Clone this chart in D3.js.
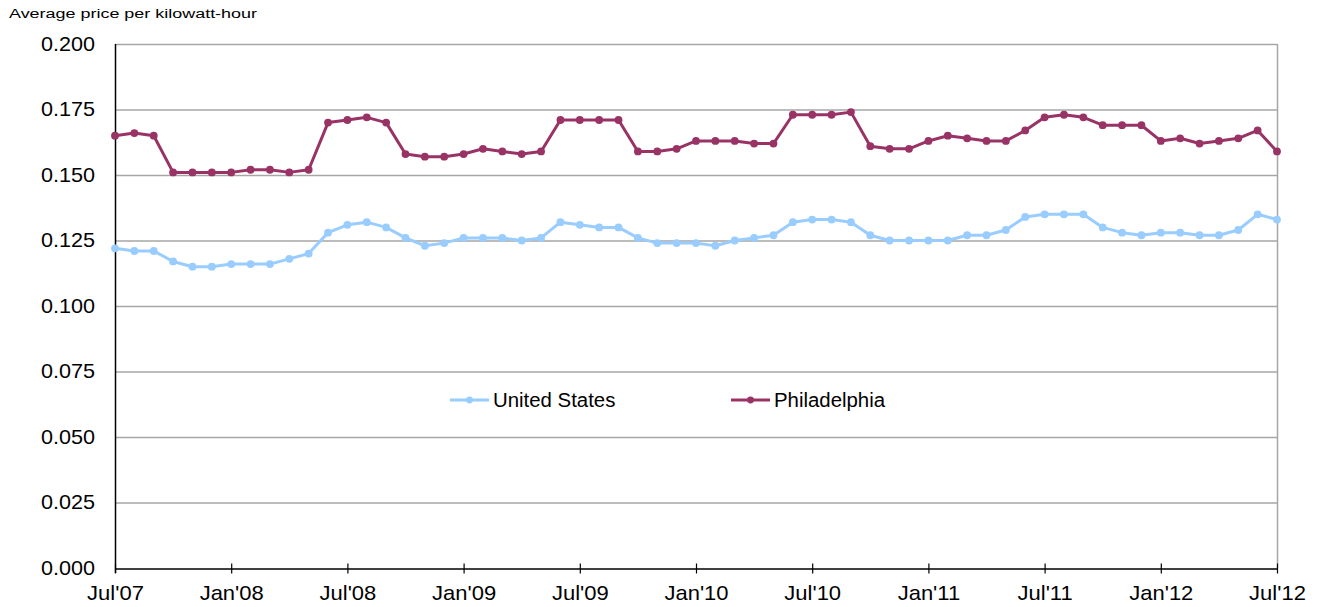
<!DOCTYPE html>
<html><head><meta charset="utf-8">
<script src="https://cdn.jsdelivr.net/npm/d3@7/dist/d3.min.js"></script>
<style>body{margin:0;background:#fff}svg{display:block}text{font-family:"Liberation Sans",Arial,sans-serif}</style>
</head><body>
<svg id="c" width="1318" height="607"></svg>
<script>
const yTicks = [0, 0.025, 0.05, 0.075, 0.1, 0.125, 0.15, 0.175, 0.2];
const xTickLabels = ["Jul'07","Jan'08","Jul'08","Jan'09","Jul'09","Jan'10","Jul'10","Jan'11","Jul'11","Jan'12","Jul'12"];
const unitedStates = [0.122,0.121,0.121,0.117,0.115,0.115,0.116,0.116,0.116,0.118,0.120,0.128,0.131,0.132,0.130,0.126,0.123,0.124,0.126,0.126,0.126,0.125,0.126,0.132,0.131,0.130,0.130,0.126,0.124,0.124,0.124,0.123,0.125,0.126,0.127,0.132,0.133,0.133,0.132,0.127,0.125,0.125,0.125,0.125,0.127,0.127,0.129,0.134,0.135,0.135,0.135,0.130,0.128,0.127,0.128,0.128,0.127,0.127,0.129,0.135,0.133];
const philadelphia = [0.165,0.166,0.165,0.151,0.151,0.151,0.151,0.152,0.152,0.151,0.152,0.170,0.171,0.172,0.170,0.158,0.157,0.157,0.158,0.160,0.159,0.158,0.159,0.171,0.171,0.171,0.171,0.159,0.159,0.160,0.163,0.163,0.163,0.162,0.162,0.173,0.173,0.173,0.174,0.161,0.160,0.160,0.163,0.165,0.164,0.163,0.163,0.167,0.172,0.173,0.172,0.169,0.169,0.169,0.163,0.164,0.162,0.163,0.164,0.167,0.159];
const seriesNames = ["United States","Philadelphia"];

const svg = d3.select("#c");
const L=115, R=1277, T=44, B=568;
const x = d3.scaleLinear().domain([0, 60]).range([L, R]);
const y = d3.scaleLinear().domain([0, 0.2]).range([B, T]);

// horizontal stretch helper (reference text is horizontally widened)
function stretch(sel, sx){
  sel.each(function(){
    const t = d3.select(this);
    const ax = +t.attr("x") || 0;
    t.attr("transform",`translate(${ax},0) scale(${sx},1) translate(${-ax},0)`);
  });
}

// gridlines
svg.append("g").selectAll("line").data(yTicks.filter(d=>d>0)).join("line")
  .attr("x1",L).attr("x2",R).attr("y1",d=>y(d)+0.5).attr("y2",d=>y(d)+0.5)
  .attr("stroke","#a6a6a6").attr("stroke-width",1.3);
// right border
svg.append("line").attr("x1",R+0.5).attr("x2",R+0.5).attr("y1",T).attr("y2",B)
  .attr("stroke","#a6a6a6").attr("stroke-width",1.5);

// y axis
const yAxis = d3.axisLeft(y).tickValues(yTicks).tickFormat(d3.format(".3f")).tickSize(0).tickPadding(20);
const gy = svg.append("g").attr("transform",`translate(${L},0)`).call(yAxis);
gy.select(".domain").remove();
gy.selectAll("text").attr("font-size",20).attr("fill","#000").attr("font-family","Liberation Sans, Arial, sans-serif");
stretch(gy.selectAll("text"), 1.08);
svg.append("line").attr("x1",L+0.5).attr("x2",L+0.5).attr("y1",T).attr("y2",B+5).attr("stroke","#000").attr("stroke-width",1.5);

// x axis
const xAxis = d3.axisBottom(x).tickValues(d3.range(0,61,6)).tickFormat((d,i)=>xTickLabels[i]).tickSizeInner(5).tickSizeOuter(0).tickPadding(12);
const gx = svg.append("g").attr("transform",`translate(0,${B+0.5})`).call(xAxis);
gx.select(".domain").attr("stroke","#000").attr("stroke-width",1.5);
gx.selectAll(".tick line").attr("y1",-5).attr("y2",5).attr("stroke","#000").attr("stroke-width",1.2);
gx.selectAll("text").attr("font-size",20).attr("fill","#000").attr("font-family","Liberation Sans, Arial, sans-serif");
stretch(gx.selectAll("text"), 1.1);

// title
const title = svg.append("text").attr("x",9).attr("y",18).attr("font-size",13.5).attr("fill","#000").text("Average price per kilowatt-hour");
stretch(title, 1.33);

const colors = ["#99ccff","#993366"];
const data = [unitedStates, philadelphia];
const line = d3.line().x((d,i)=>x(i)).y(d=>y(d));
data.forEach((s,k)=>{
  svg.append("path").datum(s).attr("d",line).attr("fill","none").attr("stroke",colors[k]).attr("stroke-width",3).attr("stroke-linejoin","round");
  svg.append("g").selectAll("circle").data(s).join("circle")
    .attr("cx",(d,i)=>x(i)).attr("cy",d=>y(d)).attr("r",3.9).attr("fill",colors[k]);
});

// legend
const legX = [450, 731];
seriesNames.forEach((n,k)=>{
  const g = svg.append("g").attr("transform",`translate(${legX[k]},400)`);
  g.append("line").attr("x1",0).attr("x2",39).attr("y1",0).attr("y2",0).attr("stroke",colors[k]).attr("stroke-width",3);
  g.append("circle").attr("cx",19.5).attr("cy",0).attr("r",3.4).attr("fill",colors[k]);
  const t = g.append("text").attr("x",43).attr("y",7).attr("font-size",20).attr("fill","#000").text(n);
  stretch(t, 1.02);
});
</script>
</body></html>
